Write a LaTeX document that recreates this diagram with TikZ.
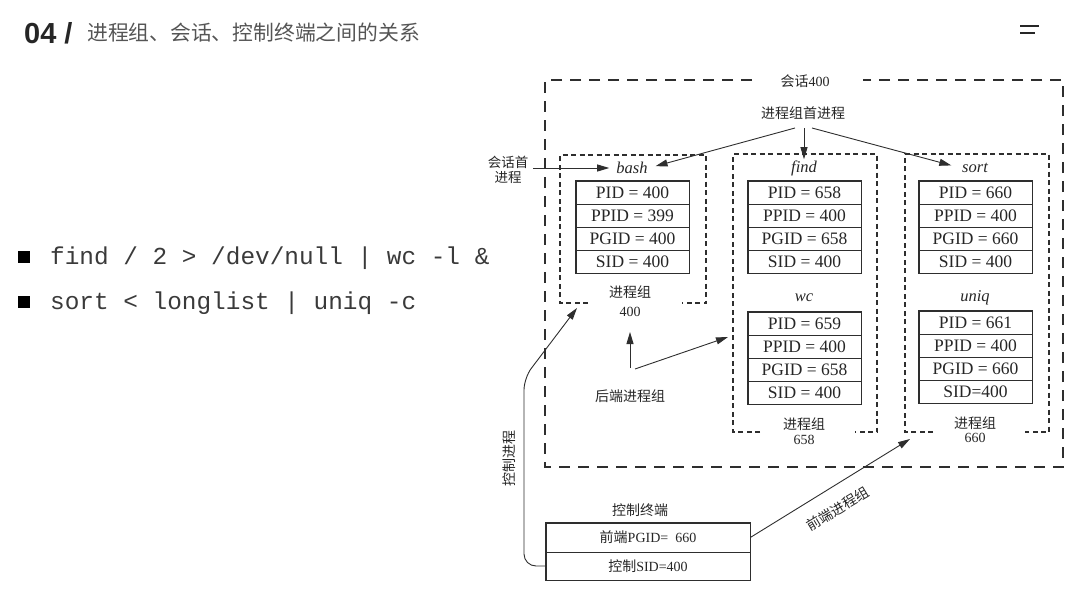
\documentclass[tikz,border=0pt]{standalone}
\usepackage{fontspec}
\setmainfont{Liberation Serif}
\setmonofont{Liberation Mono}
\newfontfamily\cjk{Noto Sans CJK SC}
\newfontfamily\headfont{Liberation Sans}
\usetikzlibrary{arrows.meta}
\definecolor{linec}{HTML}{2E2E2E}
\definecolor{txt}{HTML}{262626}
\definecolor{cmdc}{HTML}{3A3A3A}
\definecolor{headgray}{HTML}{555555}
\newcommand\ptab[7]{%
  \node[cell] (#1a) at (#2,#3+11.5) {#4};
  \node[cell] (#1b) at (#2,#3+34.5) {#5};
  \node[cell] (#1c) at (#2,#3+57.5) {#6};
  \node[cell] (#1d) at (#2,#3+80.5) {#7};
  \draw[line width=1.5pt, draw=linec] (#1a.north west) rectangle (#1d.south east);
}
\begin{document}
\begin{tikzpicture}[x=1pt,y=-1pt,
  cell/.style={draw=linec, line width=0.6pt, minimum width=113pt, minimum height=23pt, inner sep=0pt,
    font=\fontsize{17.5}{18}\selectfont, text=txt},
  lbl/.style={font=\cjk\fontsize{14}{16}\selectfont, text=txt, inner sep=1pt, align=center},
  num/.style={font=\fontsize{14}{16}\selectfont, text=txt, inner sep=1pt},
  procname/.style={font=\itshape\fontsize{16.5}{18}\selectfont, text=txt, inner sep=1pt},
  grp/.style={draw=linec, line width=1.3pt, dash pattern=on 5pt off 3.5pt},
  outerbox/.style={draw=linec, line width=1.8pt, dash pattern=on 11pt off 8pt},
  arr/.style={-{Triangle[length=12pt,width=7pt]}, draw=linec, line width=0.9pt},
  bulletsq/.style={fill=black, minimum size=12pt, inner sep=0pt},
  cmd/.style={font=\ttfamily\fontsize{24.4}{26}\selectfont, text=cmdc, inner sep=0pt, anchor=west}
]
\useasboundingbox (0,0) rectangle (1080,589);

% ---------- header ----------
\node[anchor=west, inner sep=0pt, font=\headfont\bfseries\fontsize{29}{30}\selectfont, text=txt] (hnum) at (24,33) {04 /};
\node[anchor=west, inner sep=0pt, font=\cjk\fontsize{20.8}{22}\selectfont, text=headgray] (htitle) at (87,33) {进程组、会话、控制终端之间的关系};
\coordinate (m1a) at (1020,26); \coordinate (m1b) at (1039,26);
\coordinate (m2a) at (1020,33); \coordinate (m2b) at (1035,33);
\draw[line width=2pt, draw=txt] (m1a) -- (m1b);
\draw[line width=2pt, draw=txt] (m2a) -- (m2b);

% ---------- bullets ----------
\node[bulletsq] (b1) at (24,257) {};
\node[cmd] (c1) at (50,258) {find / 2 > /dev/null | wc -l \&};
\node[bulletsq] (b2) at (24,302) {};
\node[cmd] (c2) at (50,303) {sort < longlist | uniq -c};

% ---------- session box ----------
\draw[outerbox] (752,80) -- (545,80) -- (545,467) -- (1063,467) -- (1063,80) -- (863,80);
\node[lbl] (sess) at (805,81) {会话{\rmfamily 400}};

% ---------- process group boxes ----------
\draw[grp] (588,303) -- (560,303) -- (560,155) -- (706,155) -- (706,303) -- (682,303);
\draw[grp] (760,432) -- (733,432) -- (733,154) -- (877,154) -- (877,432) -- (855,432);
\draw[grp] (933,432) -- (905,432) -- (905,154) -- (1049,154) -- (1049,432) -- (1025,432);

\node[lbl] (g400) at (630,292) {进程组};
\node[num] (g400n) at (630,312) {400};
\node[lbl] (g658) at (804,424) {进程组};
\node[num] (g658n) at (804,440) {658};
\node[lbl] (g660) at (975,423) {进程组};
\node[num] (g660n) at (975,438) {660};

% ---------- processes ----------
\node[procname] (bash) at (632,168) {bash};
\node[procname] (find) at (804,168) {find};
\node[procname] (sort) at (975,168) {sort};
\node[procname] (wc) at (804,298) {wc};
\node[procname] (uniq) at (975,298) {uniq};

\ptab{bt}{632.5}{181}{PID = 400}{PPID = 399}{PGID = 400}{SID = 400}
\ptab{ft}{804.5}{181}{PID = 658}{PPID = 400}{PGID = 658}{SID = 400}
\ptab{st}{975.5}{181}{PID = 660}{PPID = 400}{PGID = 660}{SID = 400}
\ptab{wt}{804.5}{312}{PID = 659}{PPID = 400}{PGID = 658}{SID = 400}
\ptab{ut}{975.5}{311}{PID = 661}{PPID = 400}{PGID = 660}{SID=400}

% ---------- leaders ----------
\node[lbl] (lead) at (803,113) {进程组首进程};
\coordinate (lead1) at (795,128);
\coordinate (lead2) at (804,128);
\coordinate (lead3) at (812,128);
\draw[arr, shorten >=7pt] (lead1) -- (bash.east);
\draw[arr] (lead2) -- (find.north);
\draw[arr, shorten >=10pt] (lead3) -- (sort.west);

\node[lbl, align=center, font=\cjk\fontsize{13.5}{15}\selectfont] (slead) at (508,170) {会话首\\进程};
\coordinate (sleadA) at (533,168);
\draw[arr, shorten >=6pt] (sleadA) -- (bash.west);

% ---------- background groups ----------
\node[lbl] (bg) at (630,396) {后端进程组};
\coordinate (bgA) at (630,368);
\coordinate (bgB) at (630,332);
\coordinate (bgC) at (635,369);
\coordinate (bgD) at (728,337);
\draw[arr] (bgA) -- (bgB);
\draw[arr] (bgC) -- (bgD);

% ---------- terminal ----------
\node[lbl] (termlbl) at (640,510) {控制终端};
\node[draw=linec, line width=0.6pt, minimum width=204pt, minimum height=29pt, inner sep=0pt,
      font=\cjk\fontsize{14}{16}\selectfont, text=txt] (term1) at (648,537.5) {前端{\rmfamily PGID=\ \ 660}};
\node[draw=linec, line width=0.6pt, minimum width=204pt, minimum height=28pt, inner sep=0pt,
      font=\cjk\fontsize{14}{16}\selectfont, text=txt] (term2) at (648,566) {控制{\rmfamily SID=400}};
\draw[line width=1.5pt, draw=linec] (term1.north west) rectangle (term2.south east);

\coordinate (fgTip) at (910,439);
\draw[arr] (term1.east) -- (fgTip);
\node[lbl, rotate=31] (fglbl) at (838,509) {前端进程组};

\coordinate (cpTip) at (577,308);
\draw[arr, rounded corners=12pt] (term2.west) -- (524,566) -- (524,378) -- (cpTip);
\node[lbl, rotate=90] (cplbl) at (509,458) {控制进程};
\end{tikzpicture}
\end{document}
